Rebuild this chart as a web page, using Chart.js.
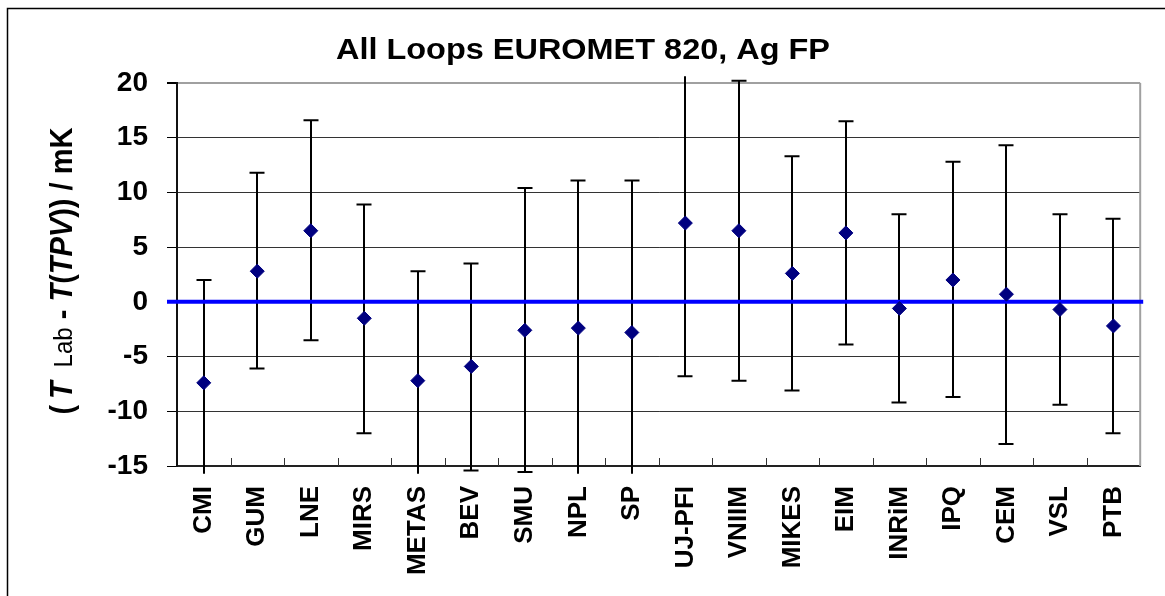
<!DOCTYPE html>
<html>
<head>
<meta charset="utf-8">
<script src="https://cdn.jsdelivr.net/npm/chart.js@4.4.1/dist/chart.umd.min.js"></script>
<style>
    html, body { margin: 0; padding: 0; background: #fff; }
    #wrap { position: relative; width: 1165px; height: 596px; }
</style>
</head>
<body>
<div id="wrap"><canvas id="chart"></canvas></div>
<script>
const labs = ['CMI', 'GUM', 'LNE', 'MIRS', 'METAS', 'BEV', 'SMU', 'NPL', 'SP',
    'UJ-PFI', 'VNIIM', 'MIKES', 'EIM', 'INRiM', 'IPQ', 'CEM', 'VSL', 'PTB'];
// T_Lab - T(TPV), mK
const deltas = [-7.4, 2.8, 6.5, -1.5, -7.2, -5.9, -2.6, -2.4, -2.8,
    7.2, 6.5, 2.6, 6.3, -0.6, 2.0, 0.7, -0.7, -2.2];
// error bar ends, mK
const upper = [2.0, 11.8, 16.6, 8.9, 2.8, 3.5, 10.4, 11.1, 11.1,
    21.3, 20.2, 13.3, 16.5, 8.0, 12.8, 14.3, 8.0, 7.6];
const lower = [-16.8, -6.1, -3.5, -12.0, -17.2, -15.4, -15.55, -15.9, -16.7,
    -6.8, -7.2, -8.1, -3.9, -9.2, -8.7, -13.0, -9.4, -12.0];
const yTicks = [-15, -10, -5, 0, 5, 10, 15, 20];
const refLine = 0;
const barClip = [-15.62, 20.62];

const FONT = '"Liberation Sans", Arial, sans-serif';

const decor = {
    id: 'decor',
    beforeDraw(chart) {
        const ctx = chart.ctx;
        ctx.save();
        ctx.fillStyle = '#fff';
        ctx.fillRect(0, 0, chart.width, chart.height);
        ctx.strokeStyle = '#000';
        ctx.lineWidth = 1.5;
        ctx.beginPath();
        ctx.moveTo(7.5, chart.height);
        ctx.lineTo(7.5, 8.5);
        ctx.lineTo(chart.width, 8.5);
        ctx.stroke();
        ctx.restore();
    },
    beforeDatasetsDraw(chart) {
        const { ctx, chartArea: a, scales: { x, y } } = chart;
        ctx.save();

        // right frame of plot area
        ctx.strokeStyle = '#a0a0a0';
        ctx.lineWidth = 2;
        ctx.beginPath();
        ctx.moveTo(a.right, a.top);
        ctx.lineTo(a.right, a.bottom);
        ctx.stroke();

        // inner category ticks
        ctx.strokeStyle = '#333';
        ctx.lineWidth = 1;
        ctx.beginPath();
        for (let k = 1; k < labs.length; k++) {
            const px = Math.round((x.getPixelForValue(k - 1) + x.getPixelForValue(k)) / 2) + 0.5;
            ctx.moveTo(px, a.bottom);
            ctx.lineTo(px, a.bottom - 8);
        }
        ctx.stroke();

        // error bars
        ctx.save();
        const cTop = y.getPixelForValue(barClip[1]);
        const cBot = y.getPixelForValue(barClip[0]);
        ctx.beginPath();
        ctx.rect(0, cTop, chart.width, cBot - cTop + 1);
        ctx.clip();
        ctx.strokeStyle = '#000';
        ctx.lineWidth = 2;
        labs.forEach((_, i) => {
            const px = Math.round(x.getPixelForValue(i));
            const yHi = y.getPixelForValue(upper[i]);
            const yLo = y.getPixelForValue(lower[i]);
            ctx.beginPath();
            ctx.moveTo(px, yHi);
            ctx.lineTo(px, yLo);
            ctx.moveTo(px - 7.5, yHi);
            ctx.lineTo(px + 7.5, yHi);
            ctx.moveTo(px - 7.5, yLo);
            ctx.lineTo(px + 7.5, yLo);
            ctx.stroke();
        });
        ctx.restore();

        // reference line
        const y0 = y.getPixelForValue(refLine);
        ctx.strokeStyle = '#0000ff';
        ctx.lineWidth = 4;
        ctx.beginPath();
        ctx.moveTo(a.left - 10, y0);
        ctx.lineTo(a.right + 3, y0);
        ctx.stroke();
        ctx.restore();
    },
    afterDraw(chart) {
        const ctx = chart.ctx;
        ctx.save();
        ctx.fillStyle = '#000';

        // title
        ctx.save();
        ctx.translate(583, 59);
        ctx.scale(1.1, 1);
        ctx.font = `bold 29.5px ${FONT}`;
        ctx.textAlign = 'center';
        ctx.textBaseline = 'alphabetic';
        ctx.fillText('All Loops EUROMET 820, Ag FP', 0, 0);
        ctx.restore();

        // y axis title
        const parts = [
            ['(\u2009', 'bold', 29],
            ['T', 'italic bold', 29],
            ['\u2009 ', 'bold', 29],
            ['Lab', 'normal', 24],
            [' - ', 'bold', 29],
            ['T', 'italic bold', 29],
            ['(', 'bold', 29],
            ['TPV', 'italic bold', 29],
            [')) / mK', 'bold', 29],
        ];
        let total = 0;
        const widths = parts.map(([t, w, s]) => {
            ctx.font = `${w} ${s}px ${FONT}`;
            const m = ctx.measureText(t).width;
            total += m;
            return m;
        });
        ctx.translate(72, 271);
        ctx.rotate(-Math.PI / 2);
        ctx.scale(1, 1.08);
        ctx.textAlign = 'left';
        ctx.textBaseline = 'alphabetic';
        let cx = -total / 2;
        parts.forEach(([t, w, s], i) => {
            ctx.font = `${w} ${s}px ${FONT}`;
            ctx.fillText(t, cx, 0);
            cx += widths[i];
        });
        ctx.restore();
    },
};

new Chart(document.getElementById('chart').getContext('2d'), {
    type: 'line',
    data: {
        labels: labs,
        datasets: [{
            label: 'All Loops',
            data: deltas,
            showLine: false,
            pointStyle: 'rectRot',
            pointRadius: 7,
            pointBorderWidth: 1,
            pointBackgroundColor: '#000080',
            pointBorderColor: '#000080',
        }],
    },
    options: {
        responsive: true,
        maintainAspectRatio: false,
        devicePixelRatio: 1,
        animation: false,
        layout: { padding: { top: 83, right: 13, bottom: 0, left: 0 } },
        plugins: {
            legend: { display: false },
            tooltip: { enabled: false },
            title: { display: false },
        },
        scales: {
            x: {
                type: 'category',
                offset: true,
                afterFit(s) { s.height = 130; },
                grid: { display: false, drawTicks: false },
                border: { display: true, color: '#222', width: 2 },
                ticks: {
                    autoSkip: false,
                    minRotation: 90,
                    maxRotation: 90,
                    padding: 20,
                    color: '#000',
                    font: { family: FONT, size: 26, weight: 'bold' },
                },
            },
            y: {
                min: -15,
                max: 20,
                afterBuildTicks(s) { s.ticks = yTicks.map(v => ({ value: v })); },
                afterFit(s) { s.width = 177; },
                grid: {
                    color: c => (c.tick && c.tick.value === 20 ? '#a0a0a0' : '#333'),
                    lineWidth: c => (c.tick && c.tick.value === 20 ? 2 : 1),
                    tickColor: '#000',
                    tickLength: 10,
                },
                border: { display: true, color: '#111', width: 2 },
                ticks: {
                    padding: 19,
                    color: '#000',
                    font: { family: FONT, size: 28, weight: 'bold' },
                },
            },
        },
    },
    plugins: [decor],
});
</script>
</body>
</html>
